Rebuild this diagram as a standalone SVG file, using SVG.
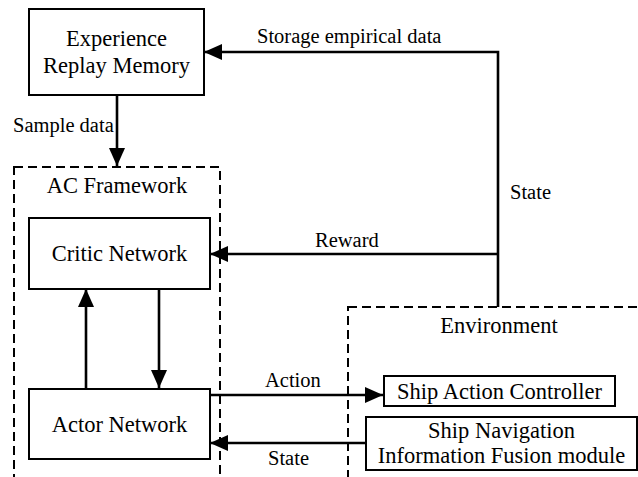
<svg xmlns="http://www.w3.org/2000/svg" width="638" height="477" viewBox="0 0 638 477" font-family="'Liberation Serif', 'Times New Roman', 'DejaVu Serif', serif">
<style>
text{font-family:'Liberation Serif','Times New Roman','DejaVu Serif',serif;fill:#000}
.n{font-size:22.5px;text-anchor:middle}
.l{font-size:20.5px}
.box{fill:#fff;stroke:#000;stroke-width:2}
.dash{fill:none;stroke:#000;stroke-width:2;stroke-dasharray:9 5}
.c{fill:none;stroke:#000;stroke-width:2.6;marker-end:url(#ah)}
</style>
<defs>
<marker id="ah" markerUnits="userSpaceOnUse" markerWidth="20" markerHeight="18" refX="18" refY="8" orient="auto">
<path d="M0,0 L18,8 L0,16 z" fill="#000"/>
</marker>
</defs>
<g id="ac-framework">
<rect class="dash" x="14" y="167" width="206" height="330"/>
<text class="n" x="117" y="193">AC Framework</text>
</g>
<g id="environment">
<rect class="dash" x="348" y="307" width="320" height="200"/>
<text class="n" x="499" y="333">Environment</text>
</g>
<g id="experience-replay-memory">
<rect class="box" x="29" y="9" width="175" height="86"/>
<text class="n" x="116.5" y="46">Experience</text>
<text class="n" x="116.5" y="73">Replay Memory</text>
</g>
<g id="critic-network">
<rect class="box" x="29" y="218" width="181" height="71"/>
<text class="n" x="119.5" y="261">Critic Network</text>
</g>
<g id="actor-network">
<rect class="box" x="29" y="389" width="181" height="70"/>
<text class="n" x="119.5" y="432">Actor Network</text>
</g>
<g id="ship-action-controller">
<rect class="box" x="384" y="376" width="231" height="30"/>
<text class="n" x="499.5" y="399">Ship Action Controller</text>
</g>
<g id="ship-navigation">
<rect class="box" x="366" y="417" width="271" height="53"/>
<text class="n" x="501.5" y="438">Ship Navigation</text>
<text class="n" x="501.5" y="463">Information Fusion module</text>
</g>
<g id="connectors">
<polyline class="c" points="498,307 498,52 204,52"/>
<line class="c" x1="498" y1="254" x2="210" y2="254"/>
<line class="c" x1="117" y1="95" x2="117" y2="166"/>
<line class="c" x1="159" y1="289" x2="159" y2="388"/>
<line class="c" x1="86" y1="389" x2="86" y2="289"/>
<line class="c" x1="210" y1="395" x2="383" y2="395"/>
<line class="c" x1="366" y1="443" x2="210" y2="443"/>
<text class="l" x="257" y="43">Storage empirical data</text>
<text class="l" x="13" y="132">Sample data</text>
<text class="l" x="510" y="199">State</text>
<text class="l" x="315" y="247">Reward</text>
<text class="l" x="265" y="387">Action</text>
<text class="l" x="268" y="465">State</text>
</g>
</svg>
